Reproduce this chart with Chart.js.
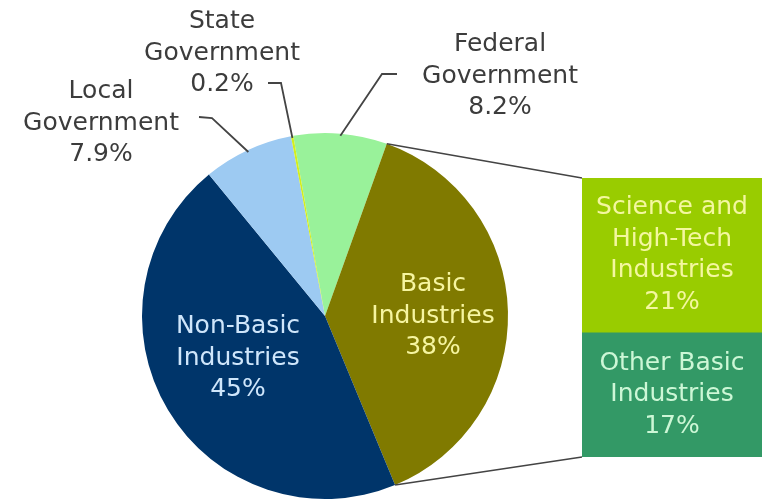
<!DOCTYPE html>
<html>
<head>
<meta charset="utf-8">
<script src="https://cdn.jsdelivr.net/npm/chart.js@4.4.1/dist/chart.umd.min.js"></script>
<style>
  html, body { margin: 0; padding: 0; background: #fff; }
  #wrap { position: relative; width: 763px; height: 502px; overflow: hidden; }
  #pieCanvas { position: absolute; left: 0; top: 0; }
  #barCanvas { position: absolute; left: 582px; top: 178px; }
</style>
</head>
<body>
<div id="wrap">
  <canvas id="pieCanvas" width="763" height="502"></canvas>
  <canvas id="barCanvas" width="180" height="279"></canvas>
</div>
<script>
// data
var pieLabels = ["Federal Government", "Basic Industries", "Non-Basic Industries", "Local Government", "State Government"];
var pieValues = [8.2, 38, 45, 7.9, 0.2];
var pieText = [["Federal", "Government", "8.2%"], ["Basic", "Industries", "38%"], ["Non-Basic", "Industries", "45%"], ["Local", "Government", "7.9%"], ["State", "Government", "0.2%"]];

var barLabels = ["Science and High-Tech Industries", "Other Basic Industries"];
var barValues = [21, 17];
var barText = [["Science and", "High-Tech", "Industries", "21%"], ["Other Basic", "Industries", "17%"]];

// styles
var pieColors = ["#99f29a", "#807a00", "#00356a", "#9dcaf2", "#d2ee1e"];
var pieTextColors = ["#3c3c3c", "#f6f5a0", "#cfe6fb", "#3c3c3c", "#3c3c3c"];
var barColors = ["#99cc00", "#339966"];
var barTextColors = ["#f4f7a0", "#cdf7d6"];
var FONT = "25px 'DejaVu Sans'";
var LINE_H = 31.5;

// where the text blocks sit (centre of block) and leader lines
var pieTextPos = [[500, 76], [433, 316], [238, 358], [101, 123], [222, 53]];
var leaders = [
  [[397, 74], [382, 74]],   // federal
  null, null,
  [[199, 117], [212, 118]],   // local
  [[268, 83], [281, 83]]      // state
];

function drawBlock(ctx, lines, x, y, color) {
  ctx.fillStyle = color;
  ctx.font = FONT;
  ctx.textAlign = "center";
  ctx.textBaseline = "middle";
  var top = y - (lines.length - 1) * LINE_H / 2;
  lines.forEach(function(t, i) {
    ctx.fillText(t, x, top + i * LINE_H);
  });
}

// bar chart (breakdown of basic industries)
var barChart = new Chart(document.getElementById("barCanvas"), {
  type: "bar",
  data: {
    labels: [""],
    datasets: barValues.map(function(v, i) {
      return { label: barLabels[i], data: [v], backgroundColor: barColors[i], borderWidth: 0,
               barPercentage: 1, categoryPercentage: 1 };
    })
  },
  options: {
    responsive: false,
    animation: false,
    layout: { padding: 0 },
    plugins: { legend: { display: false }, tooltip: { enabled: false } },
    scales: {
      x: { stacked: true, display: false },
      y: { stacked: true, display: false, min: 0, max: barValues[0] + barValues[1], reverse: true }
    }
  },
  plugins: [{
    id: "barText",
    afterDatasetsDraw: function(chart) {
      var ctx = chart.ctx;
      chart.data.datasets.forEach(function(ds, i) {
        var el = chart.getDatasetMeta(i).data[0];
        drawBlock(ctx, barText[i], el.x, (el.y + el.base) / 2, barTextColors[i]);
      });
    }
  }]
});

// pie chart
var pieChart = new Chart(document.getElementById("pieCanvas"), {
  type: "pie",
  data: {
    labels: pieLabels,
    datasets: [{ data: pieValues, backgroundColor: pieColors, borderWidth: 0 }]
  },
  options: {
    responsive: false,
    animation: false,
    rotation: -10,
    layout: { padding: { left: 142, right: 255, top: 133, bottom: 3 } },
    plugins: { legend: { display: false }, tooltip: { enabled: false } }
  },
  plugins: [{
    id: "pieText",
    afterDatasetsDraw: function(chart) {
      var ctx = chart.ctx;
      var arcs = chart.getDatasetMeta(0).data;
      ctx.save();
      ctx.strokeStyle = "#444";
      ctx.lineWidth = 1.8;
      // leader lines from slice edge to label
      arcs.forEach(function(a, i) {
        if (!leaders[i]) return;
        var mid = (a.startAngle + a.endAngle) / 2;
        var r = a.outerRadius - 2;
        var px = a.x + Math.cos(mid) * r, py = a.y + Math.sin(mid) * r;
        ctx.beginPath();
        ctx.moveTo(leaders[i][0][0], leaders[i][0][1]);
        ctx.lineTo(leaders[i][1][0], leaders[i][1][1]);
        ctx.lineTo(px, py);
        ctx.stroke();
      });
      // connectors from basic industries slice to the bar
      var b = arcs[1];
      var barMeta0 = barChart.getDatasetMeta(0).data[0];
      var barMeta1 = barChart.getDatasetMeta(1).data[0];
      var bx = 582 + barMeta0.x - barMeta0.width / 2;
      var yTop = 178 + barMeta0.base;
      var yBot = 178 + barMeta1.y;
      ctx.lineWidth = 1.5;
      ctx.beginPath();
      ctx.moveTo(b.x + Math.cos(b.startAngle) * b.outerRadius, b.y + Math.sin(b.startAngle) * b.outerRadius);
      ctx.lineTo(bx, yTop);
      ctx.moveTo(b.x + Math.cos(b.endAngle) * b.outerRadius, b.y + Math.sin(b.endAngle) * b.outerRadius);
      ctx.lineTo(bx, yBot);
      ctx.stroke();
      ctx.restore();
      arcs.forEach(function(a, i) {
        drawBlock(ctx, pieText[i], pieTextPos[i][0], pieTextPos[i][1], pieTextColors[i]);
      });
    }
  }]
});
</script>
</body>
</html>
